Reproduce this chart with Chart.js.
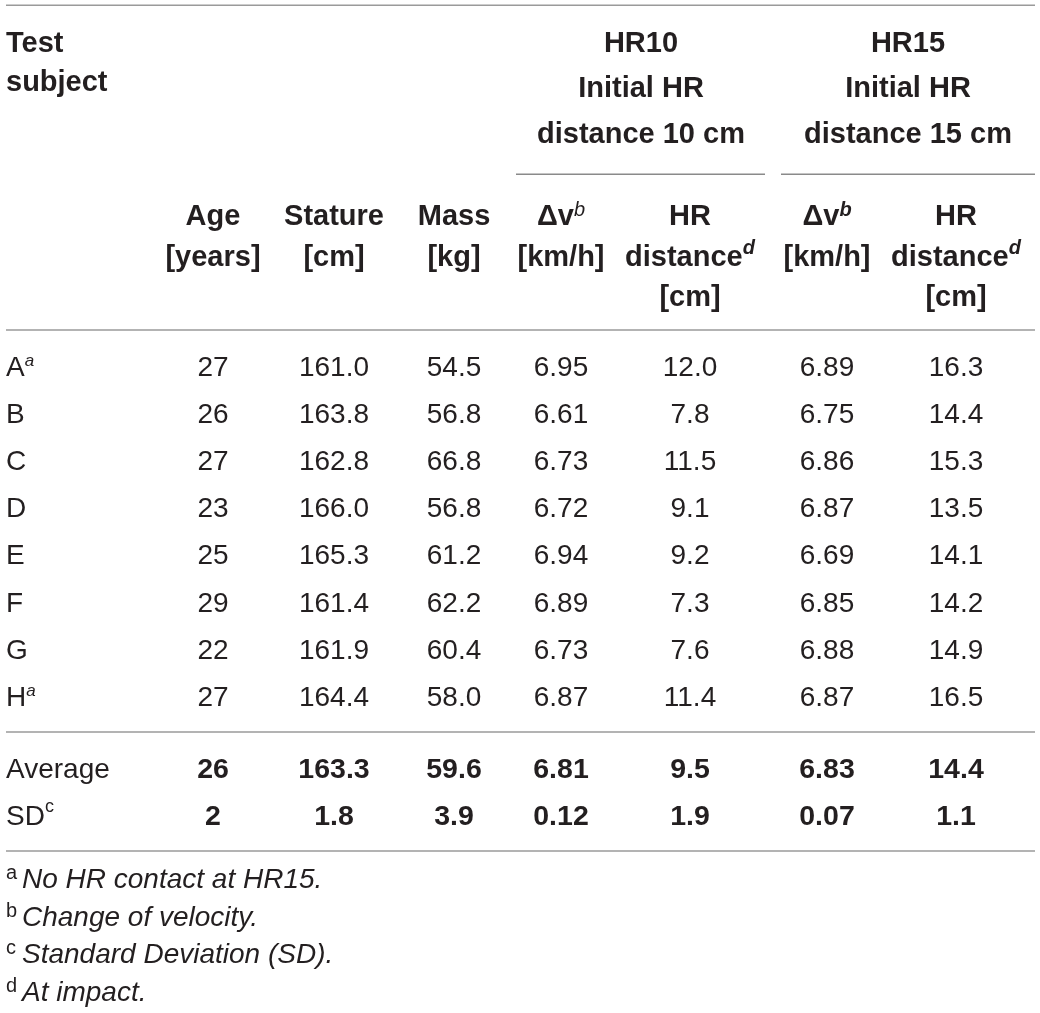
<!DOCTYPE html>
<html><head><meta charset="utf-8">
<script src="https://cdn.jsdelivr.net/npm/chart.js@4.4.1/dist/chart.umd.min.js"></script>
<style>html,body{margin:0;padding:0;background:#fff;}canvas{display:block;}</style>
</head><body>
<canvas id="c" width="1040" height="1013"></canvas>
<script>
// ---------- data ----------
const subjects     = ['A', 'B', 'C', 'D', 'E', 'F', 'G', 'H'];
const subjectNotes = ['a', '',  '',  '',  '',  '',  '',  'a'];
const age      = [27, 26, 27, 23, 25, 29, 22, 27];
const stature  = [161.0, 163.8, 162.8, 166.0, 165.3, 161.4, 161.9, 164.4];
const mass     = [54.5, 56.8, 66.8, 56.8, 61.2, 62.2, 60.4, 58.0];
const dv10     = [6.95, 6.61, 6.73, 6.72, 6.94, 6.89, 6.73, 6.87];
const hrDist10 = [12.0, 7.8, 11.5, 9.1, 9.2, 7.3, 7.6, 11.4];
const dv15     = [6.89, 6.75, 6.86, 6.87, 6.69, 6.85, 6.88, 6.87];
const hrDist15 = [16.3, 14.4, 15.3, 13.5, 14.1, 14.2, 14.9, 16.5];
const averages = [26, 163.3, 59.6, 6.81, 9.5, 6.83, 14.4];
const sds      = [2, 1.8, 3.9, 0.12, 1.9, 0.07, 1.1];
const decimals = [0, 1, 1, 2, 1, 2, 1];
const summaryLabels = ['Average', 'SD'];
const summaryNotes  = ['', 'c'];
const groupHeads = [['HR10', 'Initial HR', 'distance 10 cm'], ['HR15', 'Initial HR', 'distance 15 cm']];
const footnotes = [
  ['a', 'No HR contact at HR15.'],
  ['b', 'Change of velocity.'],
  ['c', 'Standard Deviation (SD).'],
  ['d', 'At impact.']
];

// ---------- layout (pixels in scale units) ----------
const L = {
  colX: [213, 334, 454, 561, 690, 827, 956],
  labelX: 6,
  rowY: [375.5, 422.7, 469.9, 517.1, 564.3, 611.5, 658.7, 705.9],
  sumY: [778.3, 825],
  rules: [5.3, 330, 732, 851],
  ruleX: [6, 1035],
  groupRules: [[516, 765], [781, 1035]],
  groupRuleY: 174.3,
  groupX: [641, 908],
  groupY: [51.7, 96.7, 143.3],
  testY: [51.7, 90.7],
  headY: [224.5, 266, 306],
  footY: [888.3, 925.5, 963, 1000.5],
  footTextX: 22
};

const FAM = '"Liberation Sans", Arial, Helvetica, sans-serif';
const INK = '#231f20';
const F = {
  reg: `28px ${FAM}`,
  bold: `bold 29px ${FAM}`,
  boldVal: `bold 28.5px ${FAM}`,
  supIt: `italic 17px ${FAM}`,
  supReg: `18px ${FAM}`,
  hSupIt: `italic 20px ${FAM}`,
  hSupBI: `italic bold 20px ${FAM}`,
  foot: `italic 28px ${FAM}`,
  footMark: `20px ${FAM}`
};

function drawRuns(ctx, parts, x, y, align) {
  let w = 0;
  parts.forEach(p => { ctx.font = p.f; w += ctx.measureText(p.t).width; });
  let cx = align === 'center' ? x - w / 2 : x;
  ctx.textAlign = 'left';
  ctx.textBaseline = 'alphabetic';
  parts.forEach(p => {
    ctx.font = p.f;
    ctx.fillText(p.t, cx, y - (p.dy || 0));
    cx += ctx.measureText(p.t).width;
  });
}

// build cell datasets
const columns = [age, stature, mass, dv10, hrDist10, dv15, hrDist15];
const datasets = [];
// subject label column
datasets.push({
  label: 'subject',
  align: 'left',
  data: subjects.map((s, i) => ({ x: L.labelX, y: L.rowY[i] }))
    .concat(summaryLabels.map((s, i) => ({ x: L.labelX, y: L.sumY[i] }))),
  cells: subjects.map((s, i) => [{ t: s, f: F.reg }].concat(subjectNotes[i] ? [{ t: subjectNotes[i], f: F.supIt, dy: 10 }] : []))
    .concat(summaryLabels.map((s, i) => [{ t: s, f: F.reg }].concat(summaryNotes[i] ? [{ t: summaryNotes[i], f: F.supReg, dy: 13 }] : [])))
});
columns.forEach((col, c) => {
  datasets.push({
    label: 'col' + c,
    align: 'center',
    data: col.map((v, i) => ({ x: L.colX[c], y: L.rowY[i] }))
      .concat([{ x: L.colX[c], y: L.sumY[0] }, { x: L.colX[c], y: L.sumY[1] }]),
    cells: col.map(v => [{ t: v.toFixed(decimals[c]), f: F.reg }])
      .concat([[{ t: averages[c].toFixed(decimals[c]), f: F.boldVal }], [{ t: sds[c].toFixed(decimals[c]), f: F.boldVal }]])
  });
});
datasets.forEach(d => { d.pointRadius = 0; d.pointHoverRadius = 0; d.showLine = false; });

const tablePlugin = {
  id: 'tableDraw',
  afterDatasetsDraw(chart) {
    const ctx = chart.ctx;
    const X = v => chart.scales.x.getPixelForValue(v);
    const Y = v => chart.scales.y.getPixelForValue(v);
    ctx.save();
    ctx.fillStyle = INK;
    // main rules
    ctx.strokeStyle = '#9a9a9a';
    ctx.lineWidth = 1.6;
    L.rules.forEach(r => {
      ctx.beginPath(); ctx.moveTo(X(L.ruleX[0]), Y(r)); ctx.lineTo(X(L.ruleX[1]), Y(r)); ctx.stroke();
    });
    ctx.strokeStyle = '#8a8a8a';
    ctx.lineWidth = 1.5;
    L.groupRules.forEach(g => {
      ctx.beginPath(); ctx.moveTo(X(g[0]), Y(L.groupRuleY)); ctx.lineTo(X(g[1]), Y(L.groupRuleY)); ctx.stroke();
    });
    // header: Test subject
    drawRuns(ctx, [{ t: 'Test', f: F.bold }], X(L.labelX), Y(L.testY[0]), 'left');
    drawRuns(ctx, [{ t: 'subject', f: F.bold }], X(L.labelX), Y(L.testY[1]), 'left');
    // group headers
    groupHeads.forEach((g, gi) => {
      g.forEach((t, li) => drawRuns(ctx, [{ t, f: F.bold }], X(L.groupX[gi]), Y(L.groupY[li]), 'center'));
    });
    // column headers
    const heads = [
      [[{ t: 'Age', f: F.bold }], [{ t: '[years]', f: F.bold }]],
      [[{ t: 'Stature', f: F.bold }], [{ t: '[cm]', f: F.bold }]],
      [[{ t: 'Mass', f: F.bold }], [{ t: '[kg]', f: F.bold }]],
      [[{ t: 'Δv', f: F.bold }, { t: 'b', f: F.hSupIt, dy: 9 }], [{ t: '[km/h]', f: F.bold }]],
      [[{ t: 'HR', f: F.bold }], [{ t: 'distance', f: F.bold }, { t: 'd', f: F.hSupBI, dy: 12 }], [{ t: '[cm]', f: F.bold }]],
      [[{ t: 'Δv', f: F.bold }, { t: 'b', f: F.hSupBI, dy: 9 }], [{ t: '[km/h]', f: F.bold }]],
      [[{ t: 'HR', f: F.bold }], [{ t: 'distance', f: F.bold }, { t: 'd', f: F.hSupBI, dy: 12 }], [{ t: '[cm]', f: F.bold }]]
    ];
    heads.forEach((h, c) => h.forEach((line, li) => drawRuns(ctx, line, X(L.colX[c]), Y(L.headY[li]), 'center')));
    // cells from dataset elements
    chart.data.datasets.forEach((ds, di) => {
      const meta = chart.getDatasetMeta(di);
      meta.data.forEach((pt, i) => drawRuns(ctx, ds.cells[i], pt.x, pt.y, ds.align));
    });
    // footnotes
    footnotes.forEach((fn, i) => {
      const y = Y(L.footY[i]);
      ctx.font = F.footMark; ctx.textAlign = 'left'; ctx.textBaseline = 'alphabetic';
      ctx.fillText(fn[0], X(L.labelX), y - 9);
      ctx.font = F.foot;
      ctx.fillText(fn[1], X(L.footTextX), y);
    });
    ctx.restore();
  }
};

new Chart(document.getElementById('c'), {
  type: 'scatter',
  data: { datasets },
  options: {
    responsive: false,
    devicePixelRatio: 1,
    animation: false,
    events: [],
    layout: { padding: 0 },
    plugins: { legend: { display: false }, tooltip: { enabled: false } },
    scales: {
      x: { type: 'linear', display: false, min: 0, max: 1040 },
      y: { type: 'linear', display: false, min: 0, max: 1013, reverse: true }
    }
  },
  plugins: [tablePlugin]
});
</script>
</body></html>
